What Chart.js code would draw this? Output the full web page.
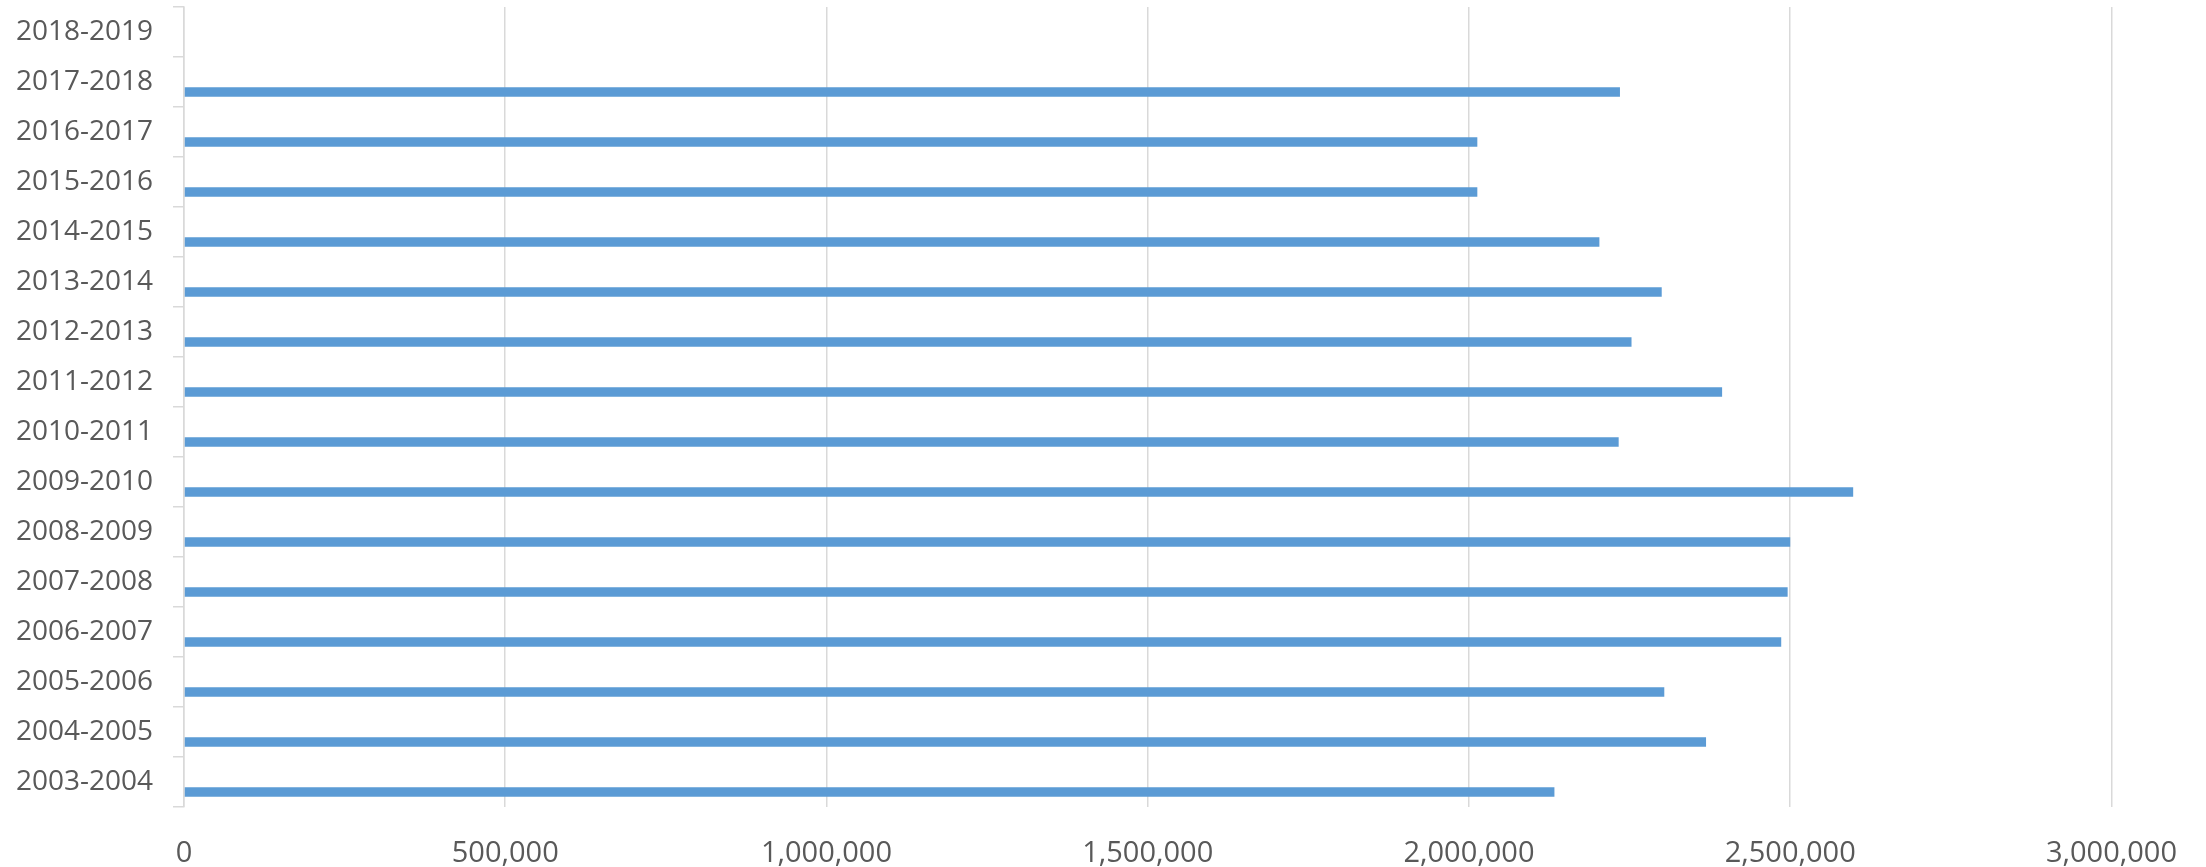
<!DOCTYPE html>
<html>
<head>
<meta charset="utf-8">
<script src="https://cdn.jsdelivr.net/npm/chart.js@4/dist/chart.umd.min.js"></script>
<style>
  html, body { margin: 0; padding: 0; background: #fff; }
  #wrap { width: 2206px; height: 867px; position: relative; }
</style>
</head>
<body>
<div id="wrap"><canvas id="myChart"></canvas></div>
<script>
/* Data, oldest year first (axis is reversed so it sits at the bottom) */
const years = ["2003-2004", "2004-2005", "2005-2006", "2006-2007", "2007-2008", "2008-2009",
  "2009-2010", "2010-2011", "2011-2012", "2012-2013", "2013-2014", "2014-2015",
  "2015-2016", "2016-2017", "2017-2018", "2018-2019"];
const values = [2133000, 2369000, 2304000, 2486000, 2496000, 2500000,
  2598000, 2233000, 2394000, 2253000, 2300000, 2203000,
  2013000, 2013000, 2235000, null];
// second (empty) series, Excel keeps a slot for it
const emptySeries = years.map(() => null);
const xTicks = [0, 500000, 1000000, 1500000, 2000000, 2500000, 3000000];

const textColor = "#595959";
const gridColor = "#D9D9D9";

new Chart("myChart", {
  type: "bar",
  data: {
    labels: years,
    datasets: [{
      label: "",
      data: emptySeries,
      backgroundColor: "#ED7D31"
    }, {
      label: "",
      data: values,
      backgroundColor: "#5B9BD5",
      borderWidth: 0
    }]
  },
  options: {
    indexAxis: "y",
    responsive: true,
    maintainAspectRatio: false,
    animation: false,
    categoryPercentage: 0.8,
    barPercentage: 0.485,
    layout: { padding: { top: 7, bottom: 0, left: 17, right: 29 } },
    plugins: {
      legend: { display: false },
      tooltip: { enabled: false }
    },
    scales: {
      x: {
        min: xTicks[0],
        max: xTicks[xTicks.length - 1],
        afterBuildTicks: (axis) => { axis.ticks = xTicks.map(v => ({ value: v })); },
        afterFit: (axis) => { axis.height = 60; },
        grid: { color: gridColor, lineWidth: 1.5, drawTicks: false },
        border: { display: false },
        ticks: {
          color: textColor,
          padding: 29,
          font: { family: "Open Sans", size: 29 },
          callback: (v) => Number(v).toLocaleString("en-US")
        }
      },
      y: {
        reverse: true,
        afterFit: (axis) => { axis.width = 167; axis.paddingTop = 0; axis.paddingBottom = 0; },
        grid: { drawOnChartArea: false, color: gridColor, lineWidth: 1.5, tickLength: 11, offset: true },
        border: { color: gridColor, width: 1.5 },
        ticks: {
          color: textColor,
          padding: 20,
          font: { family: "Open Sans", size: 28 }
        }
      }
    }
  }
});
</script>
</body>
</html>
